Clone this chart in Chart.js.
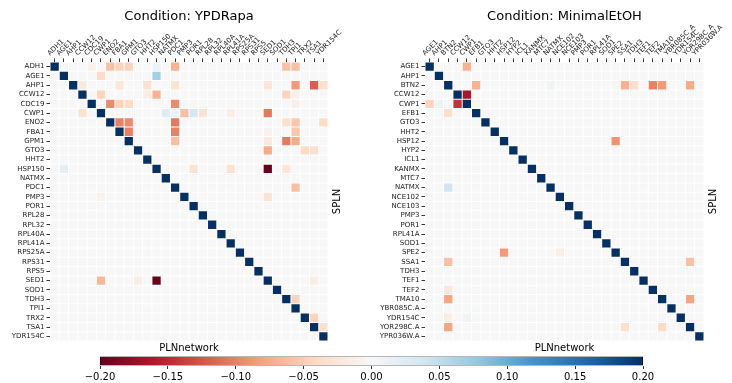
<!DOCTYPE html>
<html><head><meta charset="utf-8">
<script src="https://cdn.jsdelivr.net/npm/chart.js@4/dist/chart.umd.min.js"></script>
<style>
html,body{margin:0;padding:0;background:#fff;width:732px;height:383px;overflow:hidden}
canvas{position:absolute;display:block}
</style></head><body>
<canvas id="left" width="366" height="356" style="left:0;top:0;width:366px;height:356px"></canvas>
<canvas id="right" width="366" height="356" style="left:366px;top:0;width:366px;height:356px"></canvas>
<canvas id="cbar" width="732" height="33" style="left:0;top:350px;width:732px;height:33px"></canvas>
<script>
// ---------- DATA ----------
const ypdGenes = ["ADH1","AGE1","AHP1","CCW12","CDC19","CWP1","ENO2","FBA1","GPM1","GTO3","HHT2","HSP150","NATMX","PDC1","PMP3","POR1","RPL28","RPL32","RPL40A","RPL41A","RPS25A","RPS31","RPS5","SED1","SOD1","TDH3","TPI1","TRX2","TSA1","YDR154C"];
// [row gene, column gene, value] (off-diagonal, non-zero)
const ypdCells = [
  ["ADH1","CDC19",-0.01],["ADH1","ENO2",-0.06],["ADH1","FBA1",-0.045],["ADH1","GPM1",-0.045],["ADH1","HSP150",0.012],["ADH1","PDC1",-0.07],["ADH1","TDH3",-0.06],["ADH1","TPI1",-0.06],
  ["AGE1","CWP1",-0.04],["AGE1","HSP150",0.068],
  ["AHP1","CCW12",-0.02],["AHP1","FBA1",-0.025],["AHP1","HHT2",-0.03],["AHP1","PDC1",-0.03],["AHP1","SED1",-0.025],["AHP1","TPI1",-0.085],["AHP1","TSA1",-0.12],["AHP1","YDR154C",-0.035],
  ["CCW12","CWP1",-0.045],["CCW12","HHT2",-0.015],["CCW12","HSP150",-0.07],["CCW12","TDH3",-0.045],["CCW12","TPI1",-0.01],
  ["CDC19","ENO2",-0.095],["CDC19","FBA1",-0.045],["CDC19","GPM1",-0.04],["CDC19","PDC1",-0.095],["CDC19","TPI1",-0.012],
  ["CWP1","CCW12",-0.03],["CWP1","NATMX",0.025],["CWP1","PDC1",0.012],["CWP1","PMP3",-0.06],["CWP1","POR1",0.035],["CWP1","RPL28",-0.03],["CWP1","RPL41A",-0.015],["CWP1","SED1",-0.105],
  ["ENO2","FBA1",-0.1],["ENO2","GPM1",-0.095],["ENO2","PDC1",-0.105],["ENO2","TDH3",-0.035],["ENO2","TPI1",-0.055],["ENO2","YDR154C",-0.04],
  ["FBA1","GPM1",-0.1],["FBA1","PDC1",-0.1],["FBA1","SED1",-0.008],["FBA1","TPI1",-0.055],
  ["GPM1","PDC1",-0.06],["GPM1","SED1",-0.02],["GPM1","TDH3",-0.105],["GPM1","TPI1",-0.075],
  ["GTO3","SED1",-0.075],["GTO3","TRX2",-0.04],["GTO3","TSA1",-0.035],
  ["HSP150","AGE1",0.02],["HSP150","POR1",-0.03],["HSP150","RPL41A",-0.03],["HSP150","SED1",-0.2],["HSP150","TDH3",-0.025],
  ["PDC1","TPI1",-0.06],
  ["PMP3","CWP1",-0.008],["PMP3","SED1",-0.03],
  ["SED1","CWP1",-0.065],["SED1","GTO3",-0.015],["SED1","HSP150",-0.2],["SED1","TSA1",-0.015],
  ["TDH3","TPI1",-0.045],
  ["TRX2","TSA1",-0.045],
  ["TSA1","YDR154C",-0.035]
];
const etohGenes = ["AGE1","AHP1","BTN2","CCW12","CWP1","EFB1","GTO3","HHT2","HSP12","HYP2","ICL1","KANMX","MTC7","NATMX","NCE102","NCE103","PMP3","POR1","RPL41A","SOD1","SPE2","SSA1","TDH3","TEF1","TEF2","TMA10","YBR085C.A","YDR154C","YOR298C.A","YPR036W.A"];
const etohColLabels = ["AGE1","AHP1","BTN2","CCW12","CWP1","EFB1","GTO3","HHT2","HSP12","HYP2","ICL1","KANMX","MTC7","NATMX","NCE102","NCE103","PMP3","POR1","RPL41A","SOD1","SPE2","SSA1","TDH3","TEF1","TEF2","TMA10","YBR085C_A","YDR154C","YOR298C_A","YPR036W.A"];
const etohCells = [
  ["AGE1","CWP1",-0.07],
  ["BTN2","EFB1",-0.07],["BTN2","NATMX",0.01],["BTN2","SPE2",-0.005],["BTN2","SSA1",-0.07],["BTN2","TDH3",-0.035],["BTN2","TEF2",-0.1],["BTN2","TMA10",-0.085],["BTN2","YOR298C.A",-0.075],
  ["CCW12","CWP1",-0.165],
  ["CWP1","AGE1",-0.045],["CWP1","AHP1",0.012],["CWP1","CCW12",-0.145],
  ["EFB1","BTN2",-0.035],
  ["HSP12","SPE2",-0.09],
  ["NATMX","BTN2",0.04],
  ["SPE2","HSP12",-0.085],["SPE2","NCE102",-0.012],
  ["SSA1","BTN2",-0.06],["SSA1","YOR298C.A",-0.06],
  ["TEF2","BTN2",-0.025],
  ["TMA10","BTN2",-0.08],["TMA10","YOR298C.A",-0.08],
  ["YDR154C","BTN2",-0.015],["YDR154C","CWP1",0.008],
  ["YOR298C.A","BTN2",-0.08],["YOR298C.A","SSA1",-0.035],["YOR298C.A","TMA10",-0.04]
];
const diagonalValue = 1;
const colorbarTicks = [-0.2,-0.15,-0.1,-0.05,0,0.05,0.1,0.15,0.2];
const vmin = -0.2, vmax = 0.2;

// ---------- COLOUR MAP (RdBu) ----------
const RDBU = ['#67001f','#b2182b','#d6604d','#f4a582','#fddbc7','#f7f7f7','#d1e5f0','#92c5de','#4393c3','#2166ac','#053061'];
const rgb = h => [parseInt(h.slice(1,3),16),parseInt(h.slice(3,5),16),parseInt(h.slice(5,7),16)];
const RDBU_RGB = RDBU.map(rgb);
function colorFor(v){
  let t = (v - vmin)/(vmax - vmin);
  t = Math.max(0, Math.min(1, t));
  const p = t*10, i = Math.min(9, Math.floor(p)), f = p - i;
  const a = RDBU_RGB[i], b = RDBU_RGB[i+1];
  const c = a.map((x,k)=>Math.round(x + (b[k]-x)*f));
  return `rgb(${c[0]},${c[1]},${c[2]})`;
}

const FONT = 'DejaVu Sans';
Chart.defaults.font.family = FONT;

const splnPlugin = {
  id: 'splnLabel',
  afterDraw(chart){
    const a = chart.chartArea, ctx = chart.ctx;
    ctx.save();
    ctx.translate(a.right + 9, (a.top + a.bottom)/2);
    ctx.rotate(-Math.PI/2);
    ctx.font = '10px "' + FONT + '"';
    ctx.fillStyle = '#000';
    ctx.textAlign = 'center';
    ctx.textBaseline = 'middle';
    ctx.fillText('SPLN', 0, 0);
    ctx.restore();
  }
};

function makeHeatmap(id, titleText, rows, cols, cells, pad){
  const idx = {}; rows.forEach((g,i)=>idx[g]=i);
  const M = rows.map((r,i)=>cols.map((c,j)=> i===j ? diagonalValue : 0));
  cells.forEach(([r,c,v])=>{ M[idx[r]][idx[c]] = v; });
  const data = [];
  rows.forEach((r,i)=>cols.forEach((c,j)=>data.push({x:c, y:r, v:M[i][j]})));
  const rad = ctx => { const s = ctx.chart.scales.x; const w = s.width/cols.length; return Math.max(0.5,(w-1)/Math.SQRT2); };
  return new Chart(document.getElementById(id), {
    type: 'scatter',
    data: {datasets:[{data, xAxisID:'x', yAxisID:'y', pointStyle:'rect', pointRadius:rad, pointHoverRadius:rad,
      pointBackgroundColor: ctx=>colorFor(ctx.raw.v), pointBorderWidth:0, pointHoverBorderWidth:0}]},
    options: {
      responsive:false, animation:false, devicePixelRatio:1, events:[],
      layout:{padding:{left:0,right:pad.right,top:0,bottom:0}},
      plugins:{
        legend:{display:false}, tooltip:{enabled:false},
        title:{display:true, text:titleText, fullSize:false, color:'#000',
          font:{family:FONT,size:13,weight:'normal'}, padding:{top:9,bottom:0}}
      },
      scales:{
        x:{type:'category', labels:cols, position:'top', offset:true,
          border:{display:false},
          grid:{drawOnChartArea:false, drawTicks:true, tickLength:3.5, color:'#000', lineWidth:0.8},
          ticks:{autoSkip:false, minRotation:45, maxRotation:45, padding:1, color:'#1a1a1a', font:{family:FONT,size:7}},
          afterFit: s=>{ s.height = pad.topAxis; }},
        x2:{type:'category', labels:cols, position:'bottom', offset:true,
          border:{display:false}, grid:{display:false}, ticks:{display:false},
          title:{display:true, text:'PLNnetwork', color:'#000', font:{family:FONT,size:10}, padding:{top:0,bottom:1.5}},
          afterFit: s=>{ s.height = 15; }},
        y:{type:'category', labels:rows, position:'left', offset:true,
          border:{display:false},
          grid:{drawOnChartArea:false, drawTicks:true, tickLength:3.5, color:'#000', lineWidth:0.8},
          ticks:{autoSkip:false, padding:2, color:'#1a1a1a', font:{family:FONT,size:7}},
          afterFit: s=>{ s.width = pad.left; }}
      }
    },
    plugins:[splnPlugin]
  });
}

makeHeatmap('left', 'Condition: YPDRapa', ypdGenes, ypdGenes, ypdCells, {left:50, right:38, topAxis:37.4});
makeHeatmap('right', 'Condition: MinimalEtOH', etohGenes, etohColLabels,
  etohCells.map(([r,c,v])=>[r, etohColLabels[etohGenes.indexOf(c)], v]).map(([r,c,v])=>[r, etohGenes[etohColLabels.indexOf(c)], v]),
  {left:59, right:28, topAxis:37.4});

// colourbar
const fmt = v => { const s = Math.abs(v) < 1e-9 ? '0.00' : v.toFixed(2); return s.replace('-', '\u2212'); };
new Chart(document.getElementById('cbar'), {
  type:'bar',
  data:{labels:[''], datasets:[{data:[[vmin, vmax]],
    backgroundColor: ctx => {
      const a = ctx.chart.chartArea; if (!a) return '#f7f7f7';
      const g = ctx.chart.ctx.createLinearGradient(a.left,0,a.right,0);
      RDBU.forEach((c,i)=>g.addColorStop(i/10, c));
      return g;
    },
    borderColor:'#000', borderWidth:0.8, borderSkipped:false, barPercentage:1, categoryPercentage:1}]},
  options:{
    indexAxis:'y', responsive:false, animation:false, devicePixelRatio:1, events:[],
    layout:{padding:{left:100,right:89,top:6.5,bottom:0}},
    plugins:{legend:{display:false}, tooltip:{enabled:false}},
    scales:{
      x:{type:'linear', min:vmin, max:vmax, position:'bottom',
        border:{display:false},
        grid:{drawOnChartArea:false, drawTicks:true, tickLength:3.5, color:'#000', lineWidth:0.8},
        ticks:{color:'#000', padding:2, font:{family:FONT,size:10}, callback: v=>fmt(v)},
        afterBuildTicks: s=>{ s.ticks = colorbarTicks.map(v=>({value:v})); },
        afterFit: s=>{ s.height = 17.5; }},
      y:{display:false}
    }
  }
});
</script>
</body></html>
